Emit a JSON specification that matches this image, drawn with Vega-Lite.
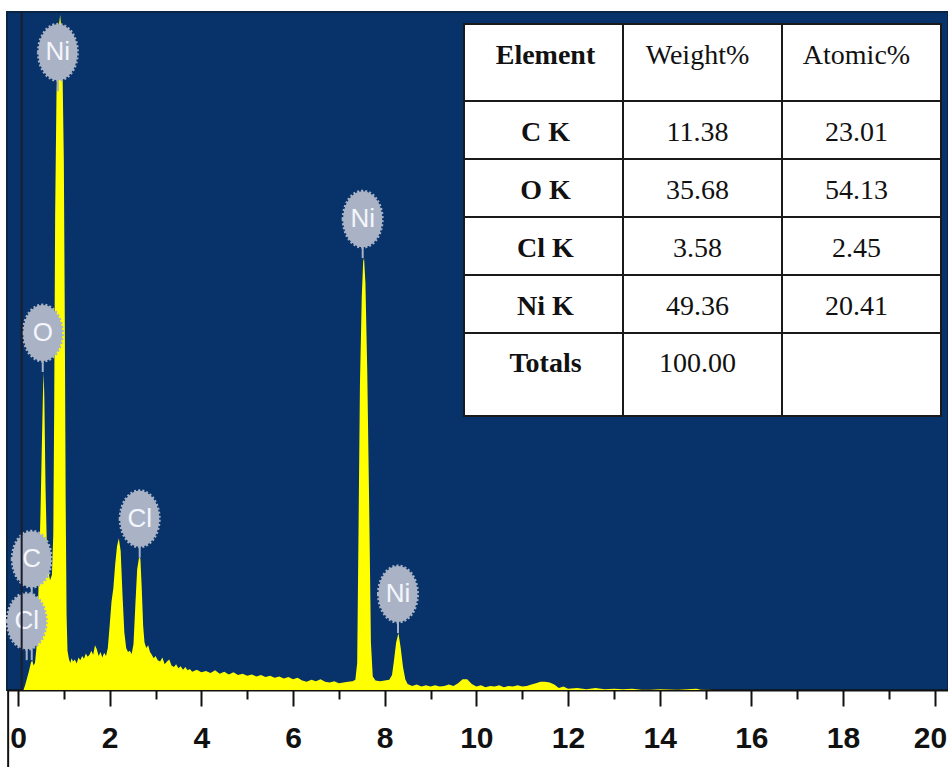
{
  "$schema": "https://vega.github.io/schema/vega-lite/v6.json",
  "width": 941,
  "height": 678,
  "autosize": {"type": "none"},
  "padding": {"left": 7, "top": 12, "right": 0, "bottom": 77},
  "background": "#FFFFFF",
  "config": {
    "view": {"fill": "#07326A", "stroke": "#0A2446", "strokeWidth": 2},
    "font": "Liberation Sans"
  },
  "datasets": {
    "spectrum": [
      {"keV": 0.12, "counts": 0}, {"keV": 0.16, "counts": 8}, {"keV": 0.2, "counts": 18}, {"keV": 0.24, "counts": 28},
      {"keV": 0.28, "counts": 40}, {"keV": 0.31, "counts": 44}, {"keV": 0.34, "counts": 36}, {"keV": 0.37, "counts": 40},
      {"keV": 0.4, "counts": 60}, {"keV": 0.43, "counts": 110}, {"keV": 0.46, "counts": 180}, {"keV": 0.49, "counts": 260},
      {"keV": 0.52, "counts": 360}, {"keV": 0.545, "counts": 440}, {"keV": 0.56, "counts": 469}, {"keV": 0.575, "counts": 430},
      {"keV": 0.6, "counts": 300}, {"keV": 0.63, "counts": 210}, {"keV": 0.66, "counts": 175}, {"keV": 0.7, "counts": 162},
      {"keV": 0.74, "counts": 170}, {"keV": 0.77, "counts": 230}, {"keV": 0.79, "counts": 420}, {"keV": 0.81, "counts": 700},
      {"keV": 0.84, "counts": 880}, {"keV": 0.87, "counts": 950}, {"keV": 0.9, "counts": 985}, {"keV": 0.92, "counts": 996},
      {"keV": 0.94, "counts": 980}, {"keV": 0.97, "counts": 920}, {"keV": 1.0, "counts": 780}, {"keV": 1.02, "counts": 560},
      {"keV": 1.04, "counts": 280}, {"keV": 1.06, "counts": 110}, {"keV": 1.08, "counts": 58}, {"keV": 1.11, "counts": 46},
      {"keV": 1.14, "counts": 40}, {"keV": 1.17, "counts": 47}, {"keV": 1.2, "counts": 42}, {"keV": 1.24, "counts": 45},
      {"keV": 1.28, "counts": 39}, {"keV": 1.32, "counts": 48}, {"keV": 1.36, "counts": 44}, {"keV": 1.4, "counts": 50},
      {"keV": 1.44, "counts": 46}, {"keV": 1.48, "counts": 54}, {"keV": 1.52, "counts": 49}, {"keV": 1.56, "counts": 52},
      {"keV": 1.6, "counts": 58}, {"keV": 1.64, "counts": 52}, {"keV": 1.68, "counts": 66}, {"keV": 1.72, "counts": 60},
      {"keV": 1.76, "counts": 50}, {"keV": 1.8, "counts": 56}, {"keV": 1.84, "counts": 48}, {"keV": 1.88, "counts": 55},
      {"keV": 1.92, "counts": 50}, {"keV": 1.96, "counts": 62}, {"keV": 2.0, "counts": 95}, {"keV": 2.04, "counts": 130},
      {"keV": 2.08, "counts": 150}, {"keV": 2.12, "counts": 185}, {"keV": 2.16, "counts": 212}, {"keV": 2.2, "counts": 224},
      {"keV": 2.24, "counts": 205}, {"keV": 2.28, "counts": 140}, {"keV": 2.32, "counts": 85}, {"keV": 2.36, "counts": 62},
      {"keV": 2.4, "counts": 56}, {"keV": 2.44, "counts": 58}, {"keV": 2.48, "counts": 53}, {"keV": 2.52, "counts": 68},
      {"keV": 2.56, "counts": 125}, {"keV": 2.6, "counts": 178}, {"keV": 2.64, "counts": 195}, {"keV": 2.67, "counts": 194},
      {"keV": 2.7, "counts": 150}, {"keV": 2.73, "counts": 95}, {"keV": 2.76, "counts": 70}, {"keV": 2.8, "counts": 62},
      {"keV": 2.84, "counts": 66}, {"keV": 2.88, "counts": 56}, {"keV": 2.92, "counts": 52}, {"keV": 2.96, "counts": 47},
      {"keV": 3.0, "counts": 50}, {"keV": 3.05, "counts": 44}, {"keV": 3.1, "counts": 42}, {"keV": 3.15, "counts": 48},
      {"keV": 3.2, "counts": 38}, {"keV": 3.25, "counts": 42}, {"keV": 3.3, "counts": 45}, {"keV": 3.35, "counts": 36},
      {"keV": 3.4, "counts": 34}, {"keV": 3.45, "counts": 38}, {"keV": 3.5, "counts": 32}, {"keV": 3.55, "counts": 35},
      {"keV": 3.6, "counts": 30}, {"keV": 3.65, "counts": 34}, {"keV": 3.7, "counts": 29}, {"keV": 3.75, "counts": 31},
      {"keV": 3.8, "counts": 27}, {"keV": 3.9, "counts": 30}, {"keV": 4.0, "counts": 26}, {"keV": 4.1, "counts": 28},
      {"keV": 4.2, "counts": 25}, {"keV": 4.3, "counts": 29}, {"keV": 4.4, "counts": 24}, {"keV": 4.5, "counts": 27},
      {"keV": 4.6, "counts": 23}, {"keV": 4.7, "counts": 26}, {"keV": 4.8, "counts": 22}, {"keV": 4.9, "counts": 24},
      {"keV": 5.0, "counts": 21}, {"keV": 5.1, "counts": 23}, {"keV": 5.2, "counts": 20}, {"keV": 5.3, "counts": 22},
      {"keV": 5.4, "counts": 19}, {"keV": 5.5, "counts": 21}, {"keV": 5.6, "counts": 18}, {"keV": 5.7, "counts": 20},
      {"keV": 5.8, "counts": 17}, {"keV": 5.9, "counts": 19}, {"keV": 6.0, "counts": 16}, {"keV": 6.1, "counts": 18},
      {"keV": 6.2, "counts": 14}, {"keV": 6.3, "counts": 12}, {"keV": 6.4, "counts": 15}, {"keV": 6.5, "counts": 13},
      {"keV": 6.6, "counts": 16}, {"keV": 6.7, "counts": 12}, {"keV": 6.8, "counts": 11}, {"keV": 6.9, "counts": 13},
      {"keV": 7.0, "counts": 10}, {"keV": 7.1, "counts": 11}, {"keV": 7.2, "counts": 12}, {"keV": 7.3, "counts": 13},
      {"keV": 7.36, "counts": 15}, {"keV": 7.4, "counts": 40}, {"keV": 7.43, "counts": 240}, {"keV": 7.46, "counts": 450},
      {"keV": 7.5, "counts": 580}, {"keV": 7.53, "counts": 632}, {"keV": 7.55, "counts": 637}, {"keV": 7.58, "counts": 600},
      {"keV": 7.62, "counts": 470}, {"keV": 7.66, "counts": 280}, {"keV": 7.7, "counts": 70}, {"keV": 7.74, "counts": 20},
      {"keV": 7.8, "counts": 14}, {"keV": 7.9, "counts": 13}, {"keV": 8.0, "counts": 14}, {"keV": 8.1, "counts": 15},
      {"keV": 8.16, "counts": 22}, {"keV": 8.2, "counts": 42}, {"keV": 8.25, "counts": 70}, {"keV": 8.3, "counts": 84},
      {"keV": 8.35, "counts": 62}, {"keV": 8.4, "counts": 34}, {"keV": 8.45, "counts": 16}, {"keV": 8.5, "counts": 9},
      {"keV": 8.6, "counts": 6}, {"keV": 8.7, "counts": 8}, {"keV": 8.8, "counts": 5}, {"keV": 8.9, "counts": 7},
      {"keV": 9.0, "counts": 5}, {"keV": 9.1, "counts": 7}, {"keV": 9.2, "counts": 5}, {"keV": 9.3, "counts": 6},
      {"keV": 9.4, "counts": 8}, {"keV": 9.5, "counts": 6}, {"keV": 9.6, "counts": 10}, {"keV": 9.7, "counts": 16},
      {"keV": 9.8, "counts": 16}, {"keV": 9.9, "counts": 9}, {"keV": 10.0, "counts": 5}, {"keV": 10.1, "counts": 7},
      {"keV": 10.2, "counts": 4}, {"keV": 10.3, "counts": 6}, {"keV": 10.4, "counts": 5}, {"keV": 10.5, "counts": 7},
      {"keV": 10.6, "counts": 4}, {"keV": 10.7, "counts": 6}, {"keV": 10.8, "counts": 5}, {"keV": 10.9, "counts": 7},
      {"keV": 11.0, "counts": 5}, {"keV": 11.1, "counts": 6}, {"keV": 11.2, "counts": 8}, {"keV": 11.3, "counts": 10},
      {"keV": 11.4, "counts": 12}, {"keV": 11.5, "counts": 12}, {"keV": 11.6, "counts": 11}, {"keV": 11.7, "counts": 8},
      {"keV": 11.8, "counts": 3}, {"keV": 11.9, "counts": 5}, {"keV": 12.0, "counts": 2}, {"keV": 12.2, "counts": 3},
      {"keV": 12.4, "counts": 1}, {"keV": 12.6, "counts": 3}, {"keV": 12.8, "counts": 1}, {"keV": 13.0, "counts": 2},
      {"keV": 13.2, "counts": 1}, {"keV": 13.4, "counts": 2}, {"keV": 13.6, "counts": 0.5}, {"keV": 13.8, "counts": 0.5},
      {"keV": 14.0, "counts": 1}, {"keV": 14.4, "counts": 0.5}, {"keV": 14.8, "counts": 2}, {"keV": 14.9, "counts": 0.5},
      {"keV": 15.2, "counts": 0}, {"keV": 20.3, "counts": 0}
    ],
    "lines": [
      {"element": "Ni", "keV": 0.87, "counts": 883, "stacked": false},
      {"element": "O", "keV": 0.54, "counts": 469, "stacked": false},
      {"element": "Cl", "keV": 0.19, "counts": 44, "stacked": false},
      {"element": "C", "keV": 0.3, "counts": 44, "stacked": true},
      {"element": "Cl", "keV": 2.655, "counts": 195, "stacked": false},
      {"element": "Ni", "keV": 7.52, "counts": 637, "stacked": false},
      {"element": "Ni", "keV": 8.29, "counts": 84, "stacked": false}
    ],
    "header": [
      {"column": "Element"},
      {"column": "Weight%"},
      {"column": "Atomic%"}
    ],
    "composition": [
      {"Element": "C K", "Weight%": 11.38, "Atomic%": 23.01},
      {"Element": "O K", "Weight%": 35.68, "Atomic%": 54.13},
      {"Element": "Cl K", "Weight%": 3.58, "Atomic%": 2.45},
      {"Element": "Ni K", "Weight%": 49.36, "Atomic%": 20.41},
      {"Element": "Totals", "Weight%": 100.0, "Atomic%": null}
    ]
  },
  "layer": [
    {
      "layer": [
        {
          "data": {"name": "spectrum"},
          "mark": {"type": "area", "color": "#FFFF00", "interpolate": "linear"},
          "encoding": {
            "x": {
              "field": "keV",
              "type": "quantitative",
              "scale": {"domain": [-0.24, 20.29], "nice": false, "zero": false},
              "axis": {
                "values": [0, 0.5, 1, 1.5, 2, 2.5, 3, 3.5, 4, 4.5, 5, 5.5, 6, 6.5, 7, 7.5, 8, 8.5, 9, 9.5, 10, 10.5, 11, 11.5, 12, 12.5, 13, 13.5, 14, 14.5, 15, 15.5, 16, 16.5, 17, 17.5, 18, 18.5, 19, 19.5, 20],
                "title": null,
                "grid": false,
                "domainColor": "#111111",
                "domainWidth": 2,
                "tickColor": "#111111",
                "tickWidth": 2,
                "tickSize": {"condition": {"test": "datum.value % 2 === 0", "value": 16}, "value": 9},
                "labelExpr": "datum.value % 2 === 0 ? datum.label : ''",
                "labelFont": "Liberation Sans",
                "labelFontSize": 30,
                "labelFontWeight": "bold",
                "labelColor": "#111111",
                "labelPadding": 17,
                "labelAlign": {"condition": {"test": "datum.value === 20", "value": "right"}, "value": "center"},
                "labelOffset": {"condition": {"test": "datum.value === 20", "value": 12}, "value": 0},
                "labelOverlap": false,
                "labelFlush": false,
                "labelBound": false
              }
            },
            "y": {
              "field": "counts",
              "type": "quantitative",
              "scale": {"domain": [0, 1000], "nice": false, "zero": true},
              "axis": null
            }
          }
        },
        {
          "data": {"name": "lines"},
          "transform": [{"filter": "!datum.stacked"}],
          "mark": {"type": "point", "shape": "M0,0L0,-0.696", "size": 12544, "filled": false, "stroke": "#A9B3C5", "strokeWidth": 2, "opacity": 1},
          "encoding": {
            "x": {"field": "keV", "type": "quantitative"},
            "y": {"field": "counts", "type": "quantitative"}
          }
        },
        {
          "data": {"name": "lines"},
          "transform": [{"filter": "datum.stacked"}],
          "mark": {"type": "point", "shape": "M0,0L0,-1.804", "size": 12544, "filled": false, "stroke": "#A9B3C5", "strokeWidth": 2, "opacity": 1},
          "encoding": {
            "x": {"field": "keV", "type": "quantitative"},
            "y": {"field": "counts", "type": "quantitative"}
          }
        },
        {
          "data": {"name": "lines"},
          "transform": [{"filter": "!datum.stacked"}],
          "mark": {
            "type": "point",
            "shape": "M-0.348,-0.696A0.348,0.5 0 1,1 0.348,-0.696A0.348,0.5 0 1,1 -0.348,-0.696Z",
            "size": 12544,
            "filled": true,
            "fill": "#A9B3C5",
            "stroke": "#A9B3C5",
            "strokeWidth": 3,
            "strokeDash": [2, 2],
            "opacity": 1
          },
          "encoding": {
            "x": {"field": "keV", "type": "quantitative"},
            "y": {"field": "counts", "type": "quantitative"}
          }
        },
        {
          "data": {"name": "lines"},
          "transform": [{"filter": "datum.stacked"}],
          "mark": {
            "type": "point",
            "shape": "M-0.348,-1.804A0.348,0.5 0 1,1 0.348,-1.804A0.348,0.5 0 1,1 -0.348,-1.804Z",
            "size": 12544,
            "filled": true,
            "fill": "#A9B3C5",
            "stroke": "#A9B3C5",
            "strokeWidth": 3,
            "strokeDash": [2, 2],
            "opacity": 1
          },
          "encoding": {
            "x": {"field": "keV", "type": "quantitative"},
            "y": {"field": "counts", "type": "quantitative"}
          }
        },
        {
          "data": {"name": "lines"},
          "transform": [{"filter": "!datum.stacked"}],
          "mark": {"type": "text", "dy": -39, "baseline": "middle", "align": "center", "font": "Liberation Sans", "fontSize": 26, "color": "#F4F6FC"},
          "encoding": {
            "x": {"field": "keV", "type": "quantitative"},
            "y": {"field": "counts", "type": "quantitative"},
            "text": {"field": "element"}
          }
        },
        {
          "data": {"name": "lines"},
          "transform": [{"filter": "datum.stacked"}],
          "mark": {"type": "text", "dy": -101, "baseline": "middle", "align": "center", "font": "Liberation Sans", "fontSize": 26, "color": "#F4F6FC"},
          "encoding": {
            "x": {"field": "keV", "type": "quantitative"},
            "y": {"field": "counts", "type": "quantitative"},
            "text": {"field": "element"}
          }
        },
        {
          "data": {"values": [{}]},
          "mark": {"type": "rule", "color": "#1B1D2A", "strokeWidth": 2},
          "encoding": {"x": {"datum": 0.08}}
        },
        {
          "data": {"values": [{}]},
          "mark": {"type": "rule", "color": "#111111", "strokeWidth": 2},
          "encoding": {"x": {"datum": -0.215}, "y": {"datum": 0}, "y2": {"datum": -114}}
        }
      ]
    },
    {
      "data": {"name": "header"},
      "encoding": {
        "x": {
          "field": "column",
          "type": "nominal",
          "sort": null,
          "scale": {"type": "band", "domain": ["Element", "Weight%", "Atomic%"], "range": [457, 934], "paddingInner": 0, "paddingOuter": 0},
          "axis": null
        },
        "y": {
          "datum": "Element",
          "type": "nominal",
          "scale": {"type": "band", "domain": ["Element"], "range": [12, 89], "paddingInner": 0, "paddingOuter": 0},
          "axis": null
        }
      },
      "layer": [
        {"mark": {"type": "rect", "fill": "#FFFFFF", "stroke": "#1A1A1A", "strokeWidth": 2}},
        {
          "transform": [{"filter": "datum.column === 'Element'"}],
          "mark": {"type": "text", "font": "Liberation Serif", "fontSize": 28, "fontWeight": "bold", "color": "#111111", "baseline": "middle", "dy": -7, "dx": 2},
          "encoding": {"text": {"field": "column"}}
        },
        {
          "transform": [{"filter": "datum.column !== 'Element'"}],
          "mark": {"type": "text", "font": "Liberation Serif", "fontSize": 28, "color": "#111111", "baseline": "middle", "dy": -7, "dx": -5},
          "encoding": {"text": {"field": "column"}}
        }
      ]
    },
    {
      "data": {"name": "composition"},
      "transform": [{"filter": "datum.Element !== 'Totals'"}],
      "encoding": {
        "y": {
          "field": "Element",
          "type": "nominal",
          "sort": null,
          "scale": {"type": "band", "domain": ["C K", "O K", "Cl K", "Ni K"], "range": [89, 321], "paddingInner": 0, "paddingOuter": 0},
          "axis": null
        }
      },
      "layer": [
        {
          "transform": [{"fold": ["Element", "Weight%", "Atomic%"], "as": ["column", "cell"]}],
          "mark": {"type": "rect", "fill": "#FFFFFF", "stroke": "#1A1A1A", "strokeWidth": 2},
          "encoding": {
            "x": {
              "field": "column",
              "type": "nominal",
              "sort": null,
              "scale": {"type": "band", "domain": ["Element", "Weight%", "Atomic%"], "range": [457, 934], "paddingInner": 0, "paddingOuter": 0},
              "axis": null
            }
          }
        },
        {
          "mark": {"type": "text", "font": "Liberation Serif", "fontSize": 28, "fontWeight": "bold", "color": "#111111", "baseline": "middle", "dy": 3, "dx": 2},
          "encoding": {
            "x": {"datum": "Element", "type": "nominal"},
            "text": {"field": "Element"}
          }
        },
        {
          "transform": [
            {"fold": ["Weight%", "Atomic%"], "as": ["column", "cell"]},
            {"filter": "isValid(datum.cell)"}
          ],
          "mark": {"type": "text", "font": "Liberation Serif", "fontSize": 28, "color": "#111111", "baseline": "middle", "dy": 3, "dx": -5},
          "encoding": {
            "x": {"field": "column", "type": "nominal", "sort": null},
            "text": {"field": "cell", "type": "quantitative", "format": ".2f"}
          }
        }
      ]
    },
    {
      "data": {"name": "composition"},
      "transform": [{"filter": "datum.Element === 'Totals'"}],
      "encoding": {
        "y": {
          "field": "Element",
          "type": "nominal",
          "sort": null,
          "scale": {"type": "band", "domain": ["Totals"], "range": [321, 404], "paddingInner": 0, "paddingOuter": 0},
          "axis": null
        }
      },
      "layer": [
        {
          "transform": [{"fold": ["Element", "Weight%", "Atomic%"], "as": ["column", "cell"]}],
          "mark": {"type": "rect", "fill": "#FFFFFF", "stroke": "#1A1A1A", "strokeWidth": 2},
          "encoding": {
            "x": {
              "field": "column",
              "type": "nominal",
              "sort": null,
              "scale": {"type": "band", "domain": ["Element", "Weight%", "Atomic%"], "range": [457, 934], "paddingInner": 0, "paddingOuter": 0},
              "axis": null
            }
          }
        },
        {
          "mark": {"type": "text", "font": "Liberation Serif", "fontSize": 28, "fontWeight": "bold", "color": "#111111", "baseline": "middle", "dy": -11, "dx": 2},
          "encoding": {
            "x": {"datum": "Element", "type": "nominal"},
            "text": {"field": "Element"}
          }
        },
        {
          "transform": [
            {"fold": ["Weight%", "Atomic%"], "as": ["column", "cell"]},
            {"filter": "isValid(datum.cell)"}
          ],
          "mark": {"type": "text", "font": "Liberation Serif", "fontSize": 28, "color": "#111111", "baseline": "middle", "dy": -11, "dx": -5},
          "encoding": {
            "x": {"field": "column", "type": "nominal", "sort": null},
            "text": {"field": "cell", "type": "quantitative", "format": ".2f"}
          }
        }
      ]
    }
  ],
  "resolve": {
    "scale": {"x": "independent", "y": "independent"},
    "axis": {"x": "independent", "y": "independent"}
  }
}
